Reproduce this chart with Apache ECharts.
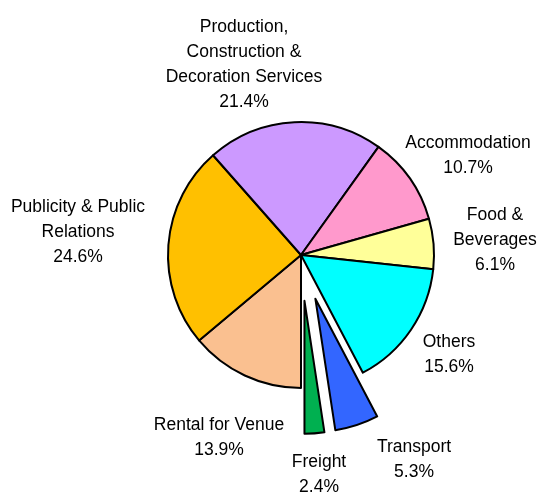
<!DOCTYPE html>
<html><head><meta charset="utf-8">
<script src="https://cdn.jsdelivr.net/npm/echarts@6/dist/echarts.min.js"></script>
<style>html,body{margin:0;padding:0;background:#fff}#c{width:541px;height:495px}</style>
</head><body><div id="c"></div>
<script>
const categories = ['Rental for Venue','Publicity & Public\nRelations','Production,\nConstruction &\nDecoration Services','Accommodation','Food &\nBeverages','Others','Transport','Freight'];
const values = [13.9, 24.6, 21.4, 10.7, 6.1, 15.6, 5.3, 2.4];
const exploded = [false, false, false, false, false, false, true, true];
const colors = ['#fac090','#ffc000','#cc99ff','#ff99cc','#ffff99','#00ffff','#3366ff','#00b050'];
// label centre positions (layout only)
const labelPos = [[219,438],[78,232],[244,65],[468,156],[495,240],[449,355],[414,460],[319,475]];

const CENTER = [301,255], R = 133, START = 270, EXPLODE = 46;
const total = values.reduce((a,b)=>a+b,0);

const labelStyle = {
  show:true,position:'outside',
  formatter:p=>p.name+'\n'+p.value.toFixed(1)+'%',
  fontFamily:'"Liberation Sans",Arial,sans-serif',
  fontSize:17.5,lineHeight:25,color:'#000'
};

function makeSeries(visibleFn, center){
  return {
    type:'pie',
    center:center,
    radius:[0,R],
    startAngle:START,
    clockwise:true,
    avoidLabelOverlap:false,
    silent:true,
    emphasis:{disabled:true},
    labelLine:{show:false},
    label:labelStyle,
    labelLayout:function(params){
      const p = labelPos[params.dataIndex];
      return {x:p[0], y:p[1], align:'center', verticalAlign:'middle'};
    },
    data:categories.map((c,i)=>{
      const vis = visibleFn(i);
      return {
        name:c, value:values[i],
        itemStyle: vis ? {color:colors[i],borderColor:'#000',borderWidth:2}
                       : {color:'rgba(0,0,0,0)',borderWidth:0},
        label: vis ? {} : {show:false}
      };
    })
  };
}

const series = [makeSeries(i=>!exploded[i], CENTER)];
let cum = 0;
values.forEach((v,i)=>{
  const midDeg = 180 + 360*(cum + v/2)/total; // clockwise from 12 o'clock
  cum += v;
  if (exploded[i]) {
    const a = midDeg*Math.PI/180;
    series.push(makeSeries(j=>j===i, [CENTER[0]+EXPLODE*Math.sin(a), CENTER[1]-EXPLODE*Math.cos(a)]));
  }
});

const chart = echarts.init(document.getElementById('c'), null, {renderer:'canvas'});
chart.setOption({animation:false, backgroundColor:'#ffffff', series:series});
</script></body></html>
